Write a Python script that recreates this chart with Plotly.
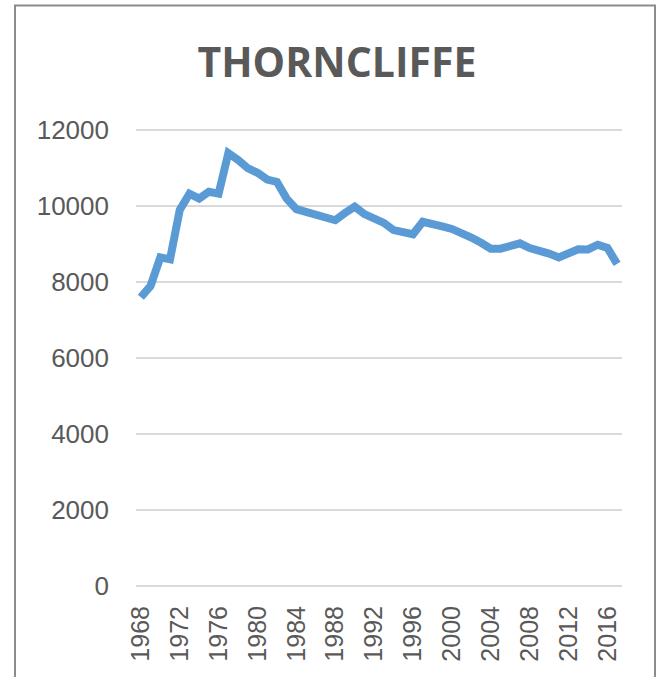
import plotly.graph_objects as go

# Thorncliffe - serie anual
years = list(range(1968, 2018))
values = [
    7600, 7900, 8650, 8600, 9900, 10330, 10200, 10380, 10330, 11400,
    11220, 11000, 10880, 10700, 10640, 10200, 9920, 9860, 9800, 9720,
    9630, 9820, 9990, 9790, 9700, 9560, 9370, 9300, 9260, 9590,
    9550, 9470, 9400, 9300, 9175, 9035, 8880, 8880, 8930, 9020,
    8895, 8840, 8750, 8650, 8750, 8865, 8860, 8985, 8900, 8480,
]
tick_years = list(range(1968, 2017, 4))
y_ticks = [0, 2000, 4000, 6000, 8000, 10000, 12000]
y_labels = [str(v) for v in y_ticks]

W, H = 658, 677
px_per_unit = 456 / 12000
pad = 60  # unidades extra para que se vean las rejillas de los extremos
pad_px = pad * px_per_unit
L = 136
R = W - 622
T = 130 - pad_px
B = H - (586 + pad_px)
pw, ph = W - L - R, H - T - B

fig = go.Figure()
fig.add_trace(go.Scatter(
    x=years, y=values, mode="lines",
    line=dict(color="#5B9BD5", width=8),
    hoverinfo="x+y", showlegend=False,
))

fig.update_layout(
    width=W, height=H,
    margin=dict(l=L, r=R, t=T, b=B, autoexpand=False),
    paper_bgcolor="white", plot_bgcolor="white",
    title=dict(
        text="<b>THORNCLIFFE</b>",
        x=337 / W, xanchor="center", xref="container",
        y=1 - 63 / H, yanchor="middle", yref="container",
        font=dict(family="Open Sans", size=41, color="#595959"),
    ),
    font=dict(family="Liberation Sans, Arial", size=25, color="#595959"),
    xaxis=dict(
        range=[1967.5, 2017.5],
        tickmode="array", tickvals=tick_years,
        ticktext=[str(t) for t in tick_years],
        tickangle=-90, showgrid=False, zeroline=False,
        showline=False, ticks="", ticklabelstandoff=12,
        tickfont=dict(size=25),
    ),
    yaxis=dict(
        range=[-pad, 12000 + pad], tickmode="array",
        tickvals=y_ticks, ticktext=y_labels,
        showgrid=True, gridcolor="#d9d9d9", gridwidth=2,
        zeroline=False, showline=False, ticks="",
        ticklabelstandoff=26, tickfont=dict(size=26),
    ),
    shapes=[dict(
        type="rect", xref="paper", yref="paper",
        x0=(15 - L) / pw, x1=(655 - L) / pw,
        y0=-0.5, y1=(H - B - 5) / ph,
        line=dict(color="#8c8c8c", width=2), fillcolor="rgba(0,0,0,0)",
        layer="below",
    )],
)

# sin el margen por defecto del body la figura ocupa justo la ventana
fig.write_html(
    "out.html",
    config={"displayModeBar": False},
    post_script="document.body.style.margin='0';",
)
